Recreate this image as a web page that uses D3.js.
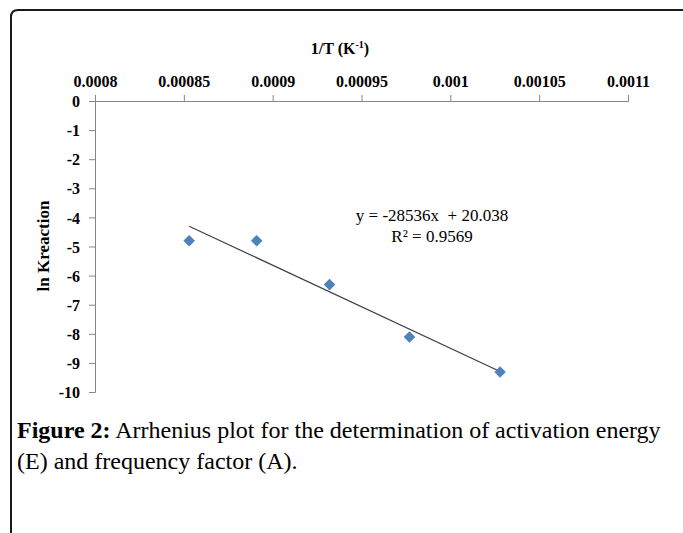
<!DOCTYPE html>
<html>
<head>
<meta charset="utf-8">
<script src="https://cdn.jsdelivr.net/npm/d3@7"></script>
<style>
  body { margin: 0; background: #fff; }
</style>
</head>
<body>
<div id="chart"></div>
<script>
// data
const invT = [0.000853, 0.000891, 0.000932, 0.000977, 0.001028];
const lnK = [-4.80, -4.80, -6.31, -8.11, -9.31];
const xTicks = [0.0008, 0.00085, 0.0009, 0.00095, 0.001, 0.00105, 0.0011];
const xTickLabels = ["0.0008", "0.00085", "0.0009", "0.00095", "0.001", "0.00105", "0.0011"];
const yTicks = [0, -1, -2, -3, -4, -5, -6, -7, -8, -9, -10];
const slope = -28536, intercept = 20.038;
const eqLines = ["y = -28536x  + 20.038", "R² = 0.9569"];

const W = 683, H = 533,
	SERIF = "'Liberation Serif', 'Times New Roman', serif",
	AXIS_COLOR = "#868686";

const svg = d3.select("#chart").append("svg")
	.attr("width", W).attr("height", H);

// frame with rounded top-left corner
svg.append("path")
	.attr("d", "M11,533 L11,17 Q11,10 18,10 L690,10")
	.attr("fill", "none").attr("stroke", "#1a1a1a").attr("stroke-width", 2);

const x = d3.scaleLinear().domain([0.0008, 0.0011]).range([95, 628]);
const y = d3.scaleLinear().domain([-10, 0]).range([392, 101]);

const gx = svg.append("g")
	.attr("class", "axis")
	.attr("transform", "translate(0," + y(0) + ")")
	.call(d3.axisTop(x).tickValues(xTicks).tickSize(6).tickSizeOuter(6).tickPadding(8)
		.tickFormat((d, i) => xTickLabels[i]));

const gy = svg.append("g")
	.attr("class", "axis")
	.attr("transform", "translate(" + x(0.0008) + ",0)")
	.call(d3.axisLeft(y).tickValues(yTicks).tickSize(6).tickSizeOuter(6).tickPadding(9)
		.tickFormat(d => d));

// d3 puts font attrs on the group, so restyle the labels here
gx.attr("font-family", null).attr("font-size", null);
gy.attr("font-family", null).attr("font-size", null);
svg.selectAll(".axis path, .axis line").attr("stroke", AXIS_COLOR);
svg.selectAll(".axis text")
	.style("font-family", SERIF).style("font-weight", "bold")
	.style("font-size", "16px").attr("fill", "#000");
gy.selectAll("text").attr("dy", "0.35em");

// axis titles
const xt = svg.append("text")
	.attr("x", 340).attr("y", 54)
	.attr("text-anchor", "middle")
	.style("font-family", SERIF).style("font-weight", "bold").style("font-size", "16px");
xt.append("tspan").text("1/T (K");
xt.append("tspan").attr("dy", -6).style("font-size", "10px").text("-1");
xt.append("tspan").attr("dy", 6).text(")");

svg.append("text")
	.attr("transform", "translate(49,246) rotate(-90)")
	.attr("text-anchor", "middle")
	.style("font-family", SERIF).style("font-weight", "bold").style("font-size", "17px")
	.text("ln Kreaction");

// trend line
svg.append("line")
	.attr("x1", x(invT[0])).attr("y1", y(slope * invT[0] + intercept))
	.attr("x2", x(invT[invT.length - 1])).attr("y2", y(slope * invT[invT.length - 1] + intercept))
	.attr("stroke", "#404040").attr("stroke-width", 1.2);

// diamond markers
svg.selectAll(".pt")
	.data(invT)
	.enter().append("path")
	.attr("class", "pt")
	.attr("d", d3.symbol().type(d3.symbolDiamond2).size(85))
	.attr("transform", (d, i) => "translate(" + x(d) + "," + y(lnK[i]) + ")")
	.attr("fill", "#4F81BD");

// equation label
svg.selectAll(".eq")
	.data(eqLines)
	.enter().append("text")
	.attr("class", "eq")
	.attr("x", 432).attr("y", (d, i) => 221 + i * 21)
	.attr("text-anchor", "middle")
	.style("white-space", "pre")
	.style("font-family", SERIF).style("font-size", "17px")
	.text(d => d);

// caption
const cap = svg.append("text")
	.style("font-family", SERIF).style("font-size", "24px");
const l1 = cap.append("tspan").attr("x", 17).attr("y", 438);
l1.append("tspan").style("font-weight", "bold").text("Figure 2:");
l1.append("tspan").text(" Arrhenius plot for the determination of activation energy");
cap.append("tspan").attr("x", 17).attr("y", 469).text("(E) and frequency factor (A).");
</script>
</body>
</html>
